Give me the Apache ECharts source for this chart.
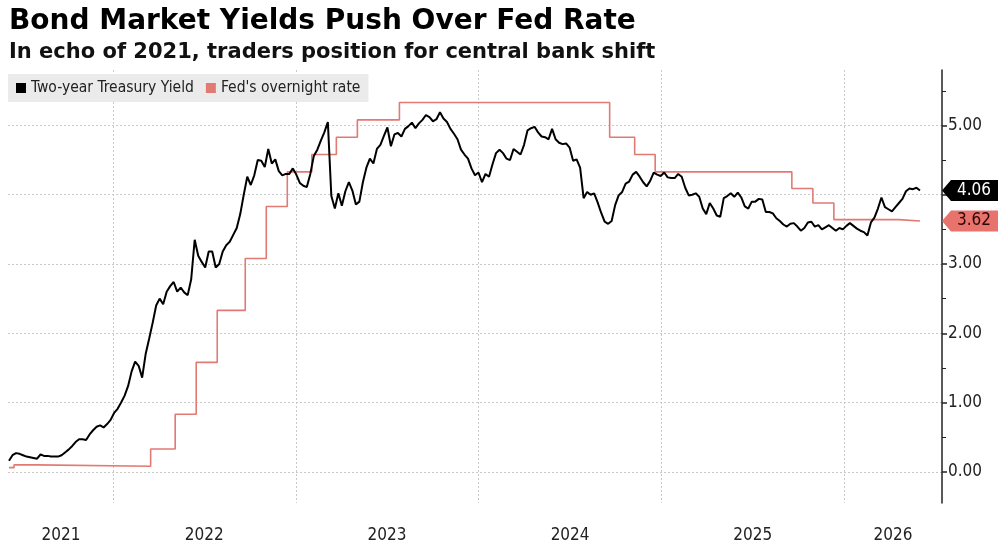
<!DOCTYPE html>
<html lang="en">
<head>
<meta charset="UTF-8">
<title>Bond Market Yields Push Over Fed Rate</title>
<style>
    html, body { margin: 0; padding: 0; background: #fff; }
    #main { width: 1000px; height: 545px; }
</style>
</head>
<body>
<div id="main"></div>
<script src="https://cdn.jsdelivr.net/npm/echarts@6/dist/echarts.min.js"></script>
<script>
    // two-year yield, one value per week starting on this date
    var yieldStart = '2021-06-07';
    var twoYearYield = [
        0.16, 0.24, 0.27, 0.26, 0.24, 0.22, 0.21, 0.20, 0.19, 0.25,
        0.23, 0.23, 0.22, 0.22, 0.22, 0.24, 0.28, 0.32, 0.37, 0.43,
        0.47, 0.47, 0.46, 0.54, 0.60, 0.65, 0.67, 0.64, 0.69, 0.75,
        0.85, 0.91, 1.00, 1.10, 1.24, 1.45, 1.59, 1.53, 1.36, 1.70,
        1.92, 2.15, 2.40, 2.50, 2.42, 2.60, 2.68, 2.74, 2.60, 2.66,
        2.59, 2.55, 2.78, 3.35, 3.12, 3.03, 2.95, 3.18, 3.18, 2.95,
        3.00, 3.18, 3.27, 3.32, 3.42, 3.52, 3.72, 4.00, 4.26, 4.14,
        4.28, 4.50, 4.49, 4.40, 4.66, 4.45, 4.51, 4.34, 4.28, 4.30,
        4.30, 4.38, 4.29, 4.17, 4.13, 4.11, 4.30, 4.56, 4.65, 4.78,
        4.90, 5.05, 3.98, 3.80, 4.02, 3.84, 4.05, 4.18, 4.06, 3.86,
        3.90, 4.18, 4.39, 4.52, 4.45, 4.66, 4.72, 4.85, 4.97, 4.70,
        4.87, 4.89, 4.84, 4.95, 4.99, 5.04, 4.96, 5.03, 5.08, 5.15,
        5.12, 5.06, 5.09, 5.19, 5.10, 5.05, 4.95, 4.88, 4.80, 4.65,
        4.58, 4.52, 4.38, 4.28, 4.32, 4.18, 4.30, 4.26, 4.44, 4.60,
        4.65, 4.60, 4.52, 4.50, 4.66, 4.62, 4.58, 4.72, 4.93, 4.96,
        4.98, 4.90, 4.84, 4.83, 4.80, 4.95, 4.80, 4.75, 4.73, 4.74,
        4.68, 4.49, 4.51, 4.39, 3.95, 4.04, 4.00, 4.02, 3.89, 3.74,
        3.61, 3.58, 3.62, 3.85, 3.99, 4.04, 4.16, 4.19, 4.29, 4.33,
        4.26, 4.18, 4.12, 4.20, 4.32, 4.29, 4.27, 4.32, 4.25, 4.24,
        4.24, 4.30, 4.26, 4.10, 3.99, 4.00, 4.02, 3.97, 3.80, 3.72,
        3.88, 3.80, 3.70, 3.68, 3.95, 3.98, 4.02, 3.97, 4.03, 3.96,
        3.83, 3.80, 3.90, 3.90, 3.94, 3.93, 3.75, 3.75, 3.73, 3.66,
        3.62, 3.57, 3.54, 3.58, 3.59, 3.54, 3.48, 3.52, 3.60, 3.61,
        3.54, 3.56, 3.50, 3.53, 3.56, 3.52, 3.48, 3.52, 3.50, 3.55,
        3.59, 3.55, 3.51, 3.48, 3.46, 3.41, 3.60, 3.67, 3.80, 3.96,
        3.82, 3.79, 3.76, 3.82, 3.88, 3.94, 4.05, 4.09, 4.08, 4.10,
        4.06
    ];

    // fed overnight rate, level in force from each date
    var fedDates = ['2021-06-07', '2021-06-17', '2021-08-02', '2022-03-17', '2022-05-05', '2022-06-16',
        '2022-07-28', '2022-09-22', '2022-11-03', '2022-12-15', '2023-02-02', '2023-03-23', '2023-05-04',
        '2023-07-27', '2024-09-19', '2024-11-08', '2024-12-19', '2025-09-18', '2025-10-30', '2025-12-11',
        '2026-04-20', '2026-06-01'];
    var fedRate = [0.06, 0.10, 0.08, 0.33, 0.83, 1.58, 2.33, 3.08, 3.83, 4.33, 4.58, 4.83, 5.08,
        5.33, 4.83, 4.58, 4.33, 4.09, 3.88, 3.64, 3.62, 3.62];

    var xStart = '2021-06-05';
    var xEnd = '2026-07-15';
    var yearLines = ['2022-01-01', '2023-01-01', '2024-01-01', '2025-01-01', '2026-01-01'];
    var yearLabelAt = ['2021-09-19', '2022-07-02', '2023-07-02', '2024-07-02', '2025-07-02', '2026-04-08'];
    var yTicks = [0, 1, 2, 3, 4, 5];
    var yMinorTicks = [0.5, 1.5, 2.5, 3.5, 4.5, 5.5];

    var yieldName = 'Two-year Treasury Yield';
    var fedName = "Fed's overnight rate";
    var red = '#e27a74';
    var condensed = 'DejaVu Sans Condensed';

    function ms(d) { return +new Date(d); }

    var startMs = ms(yieldStart);
    var yieldData = twoYearYield.map(function (v, i) {
        return [startMs + i * 7 * 86400000, v];
    });
    var fedData = fedRate.map(function (v, i) {
        return [ms(fedDates[i]), v];
    });

    // price tag sitting on the right axis at the latest value
    function tag(value, fill, textColor) {
        var lbl = {
            show: true,
            position: 'inside',
            offset: [4, 0],
            formatter: function (p) { return '{v|' + p.value.toFixed(2) + '}'; },
            rich: {
                v: { color: textColor, fontSize: 17, fontFamily: condensed, textBorderWidth: 0 }
            }
        };
        return {
            symbol: 'path://M0,10.5L9,0H56V21H9Z',
            symbolSize: [56, 21],
            symbolKeepAspect: false,
            symbolOffset: [28, 0],
            itemStyle: { color: fill },
            label: lbl,
            data: [{ coord: [ms(xEnd), value], value: value }]
        };
    }

    var myChart = echarts.init(document.getElementById('main'));
    myChart.setOption({
        animation: false,
        backgroundColor: '#fff',
        title: {
            text: 'Bond Market Yields Push Over Fed Rate',
            subtext: 'In echo of 2021, traders position for central bank shift',
            left: 4,
            top: 3,
            itemGap: 6,
            textStyle: { fontFamily: 'DejaVu Sans', fontWeight: 'bold', fontSize: 28, color: '#000' },
            subtextStyle: { fontFamily: 'DejaVu Sans', fontWeight: 'bold', fontSize: 21, color: '#111' }
        },
        legend: {
            left: 8,
            top: 74,
            padding: [6, 8, 6, 8],
            backgroundColor: '#ebebeb',
            icon: 'rect',
            itemWidth: 10,
            itemHeight: 10,
            itemGap: 12,
            selectedMode: false,
            textStyle: { fontFamily: condensed, fontSize: 15.5, color: '#222' },
            data: [
                { name: yieldName, itemStyle: { color: '#000' } },
                { name: fedName, itemStyle: { color: red } }
            ]
        },
        grid: { left: 8, right: 58, top: 70, bottom: 42 },
        xAxis: {
            type: 'value',
            min: ms(xStart),
            max: ms(xEnd),
            axisLine: { show: false },
            axisTick: { show: false, customValues: yearLines.map(ms) },
            axisLabel: {
                customValues: yearLabelAt.map(ms),
                margin: 24,
                fontFamily: condensed,
                fontSize: 17,
                color: '#222',
                formatter: function (v) { return String(new Date(v).getFullYear()); }
            },
            splitLine: { show: true, lineStyle: { color: '#c8c8c8', type: [2, 2], width: 1 } }
        },
        yAxis: [{
            type: 'value',
            position: 'right',
            min: -0.45,
            max: 5.8,
            axisLine: { show: true, lineStyle: { color: '#222', width: 1.5 } },
            axisTick: { show: true, customValues: yTicks, length: 5, lineStyle: { color: '#222', width: 1.5 } },
            axisLabel: {
                customValues: yTicks,
                margin: 6,
                fontFamily: condensed,
                fontSize: 17,
                color: '#222',
                formatter: function (v) { return v.toFixed(2); }
            },
            splitLine: { show: true, lineStyle: { color: '#c8c8c8', type: [2, 2], width: 1 } }
        }, {
            type: 'value',
            position: 'right',
            min: -0.45,
            max: 5.8,
            axisLine: { show: false },
            axisTick: { show: true, customValues: yMinorTicks, length: 4, lineStyle: { color: '#222', width: 1 } },
            axisLabel: { show: false },
            splitLine: { show: false }
        }],
        series: [{
            name: fedName,
            type: 'line',
            step: 'end',
            data: fedData,
            showSymbol: false,
            symbol: 'none',
            z: 2,
            lineStyle: { color: red, width: 1.6 },
            itemStyle: { color: red },
            markPoint: tag(fedRate[fedRate.length - 1], '#e8736c', '#2a0505')
        }, {
            name: yieldName,
            type: 'line',
            data: yieldData,
            showSymbol: false,
            symbol: 'none',
            z: 3,
            lineStyle: { color: '#000', width: 2 },
            itemStyle: { color: '#000' },
            markPoint: tag(twoYearYield[twoYearYield.length - 1], '#000', '#fff')
        }]
    });
</script>
</body>
</html>
